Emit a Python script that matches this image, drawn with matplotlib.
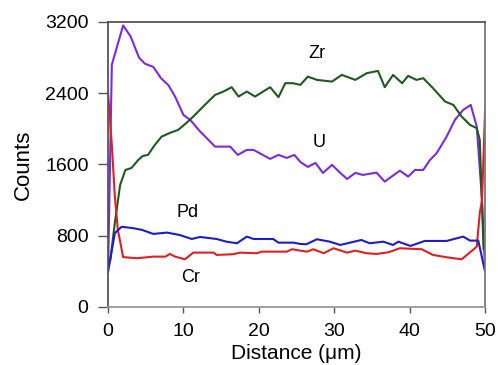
import matplotlib.pyplot as plt

plt.rcParams['font.family'] = ['Liberation Sans', 'DejaVu Sans']

# Perfis de linha (distancia em um, contagens)
u_x = [0, 0.5, 2.0, 3.0, 4.1, 4.9, 6.0, 7.0, 8.0, 8.9, 10.0, 10.9, 12.2, 14.2, 16.2, 17.2,
       18.4, 19.3, 21.5, 22.6, 23.7, 24.7, 25.5, 26.5, 27.5, 28.5, 29.7, 30.8, 31.7, 32.8,
       33.8, 35.6, 36.7, 37.6, 38.7, 39.8, 40.7, 41.8, 42.7, 43.6, 44.9, 46.0, 47.1, 48.1,
       48.9, 49.6, 50.0]
u_y = [400, 2720, 3160, 3035, 2800, 2730, 2695, 2570, 2490, 2360, 2155, 2100, 1970, 1800, 1800, 1707,
       1763, 1763, 1662, 1707, 1673, 1707, 1628, 1572, 1617, 1505, 1595, 1505, 1437, 1505,
       1482, 1508, 1407, 1463, 1530, 1463, 1538, 1538, 1650, 1729, 1912, 2100, 2212, 2268,
       2025, 1200, 400]

zr_x = [0, 0.3, 0.9, 1.6, 2.3, 3.1, 4.0, 4.6, 5.3, 6.2, 7.1, 8.2, 9.3, 10.4, 11.3, 12.6,
        14.2, 15.3, 16.4, 17.3, 18.4, 19.5, 21.5, 22.6, 23.5, 24.5, 25.5, 26.5, 27.7, 29.7,
        31.0, 32.8, 34.3, 35.8, 36.7, 37.8, 39.0, 39.8, 40.9, 41.8, 43.1, 44.7, 45.8, 46.9,
        48.0, 48.9, 49.3, 49.8]
zr_y = [450, 530, 943, 1370, 1538, 1560, 1650, 1695, 1707, 1819, 1912, 1954, 1988, 2066, 2137, 2249,
        2381, 2418, 2467, 2362, 2418, 2362, 2467, 2355, 2512, 2512, 2493, 2586, 2549, 2530,
        2605, 2549, 2624, 2650, 2467, 2605, 2512, 2594, 2549, 2568, 2456, 2306, 2268, 2137,
        2044, 2007, 1875, 650]

pd_x = [0, 0.9, 1.8, 3.3, 4.5, 6.0, 7.8, 9.5, 11.1, 12.2, 14.4, 15.7, 17.1, 18.4, 19.3,
        21.9, 22.6, 24.6, 25.5, 26.3, 27.7, 29.4, 30.8, 32.1, 33.6, 34.7, 36.5, 37.8, 38.5,
        40.1, 42.0, 44.9, 47.1, 48.0, 49.1, 50.0]
pd_y = [397, 830, 900, 885, 865, 820, 835, 808, 763, 786, 763, 733, 715, 790, 763,
        763, 722, 722, 707, 704, 760, 733, 696, 722, 752, 715, 733, 696, 733,
        685, 741, 741, 790, 745, 745, 397]

cr_x = [0, 0.5, 0.9, 1.3, 2.0, 3.8, 6.0, 7.6, 8.2, 8.9, 10.2, 11.3, 14.0, 14.4, 16.6, 17.5,
        19.7, 20.4, 23.7, 24.4, 25.5, 26.4, 27.2, 28.6, 29.9, 31.7, 32.8, 34.3, 35.6, 37.2,
        38.7, 41.6, 43.1, 44.9, 46.9, 48.9, 49.3, 49.6, 50.0]
cr_y = [2400, 1820, 1240, 865, 560, 547, 565, 565, 595, 565, 535, 610, 610, 584, 592, 610,
        603, 621, 621, 648, 632, 621, 648, 603, 659, 610, 632, 603, 595, 614,
        659, 648, 584, 558, 535, 677, 1055, 1200, 2200]

fig = plt.figure(figsize=(4.98, 3.65), dpi=100)
ax = fig.add_axes([0.217, 0.159, 0.757, 0.781])

ax.plot(u_x, u_y, color='#7a2be0', lw=1.5)
ax.plot(zr_x, zr_y, color='#1e5a1e', lw=1.5)
ax.plot(cr_x, cr_y, color='#e02020', lw=1.5)
ax.plot(pd_x, pd_y, color='#1c1ccc', lw=1.5)

ax.text(27.7, 2850, 'Zr', fontsize=13, ha='center', va='center')
ax.text(28.0, 1850, 'U', fontsize=13, ha='center', va='center')
ax.text(10.6, 1060, 'Pd', fontsize=13, ha='center', va='center')
ax.text(10.9, 335, 'Cr', fontsize=13, ha='center', va='center')

ax.set_xlim(0, 50)
ax.set_ylim(0, 3200)
ax.set_xticks([0, 10, 20, 30, 40, 50])
ax.set_yticks([0, 800, 1600, 2400, 3200])
ax.tick_params(axis='y', direction='out', length=7, width=1, color='#555555', labelsize=14, pad=7)
ax.tick_params(axis='x', direction='out', length=4.5, width=1, color='#555555', labelsize=14, pad=7)

ax.spines['left'].set_color('#555555')
ax.spines['top'].set_color('#555555')
ax.spines['right'].set_color('#777777')
ax.spines['bottom'].set_color('#999999')
for s in ax.spines.values():
    s.set_linewidth(1.3)

ax.set_xlabel('Distance (\u03bcm)', fontsize=15, labelpad=3)
ax.set_ylabel('Counts', fontsize=16, labelpad=8)

plt.savefig('out.png', dpi=100)
